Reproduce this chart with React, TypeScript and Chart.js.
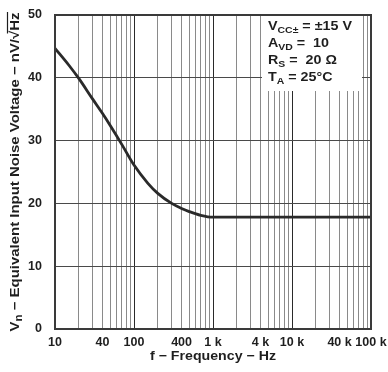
import React, { useEffect, useRef } from 'react';
import { Chart, registerables } from 'chart.js';

Chart.register(...registerables);

// ---- data ----
const FREQ_HZ = [10, 15, 20, 30, 40, 50, 70, 100, 150, 200, 300, 400, 500, 700, 1000, 2000, 10000, 100000];
const NOISE_NV = [44.7, 42.0, 39.9, 36.6, 34.3, 32.4, 29.4, 26.1, 23.2, 21.6, 20.0, 19.2, 18.7, 18.1, 17.8, 17.8, 17.8, 17.8];

const X_TICK_VALUES = [10, 40, 100, 400, 1000, 4000, 10000, 40000, 100000];
const X_TICK_LABELS = ['10', '40', '100', '400', '1 k', '4 k', '10 k', '40 k', '100 k'];
const Y_MIN = 0;
const Y_MAX = 50;
const Y_STEP = 10;

const X_TITLE = 'f − Frequency − Hz';
const Y_TITLE_MAIN = 'V';
const Y_TITLE_SUB = 'n';
const Y_TITLE_REST = ' − Equivalent Input Noise Voltage − nV/';
const Y_TITLE_ROOT = 'Hz';

const CONDITION_MAIN = ['V', 'A', 'R', 'T'];
const CONDITION_SUB = ['CC±', 'VD', 'S', 'A'];
const CONDITION_REST = [' = ±15 V', ' =  10', ' =  20 Ω', ' = 25°C'];

const FONT = "'Liberation Sans', Arial, Helvetica, sans-serif";
const TEXT_COLOR = '#1e1e1e';

// gridline frequencies: 1..9 × each decade
const GRID_FREQS: number[] = [];
for (let d = 10; d < 100000; d *= 10) {
  for (let m = 1; m < 10; m++) GRID_FREQS.push(m * d);
}
GRID_FREQS.push(100000);

type Run = { t: string; size: number; dy: number };

function runsWidth(ctx: CanvasRenderingContext2D, runs: Run[], sx: number) {
  let w = 0;
  for (const r of runs) {
    ctx.font = `bold ${r.size}px ${FONT}`;
    w += ctx.measureText(r.t).width;
  }
  return w * sx;
}

// draws text runs starting at (x, y), stretched horizontally by sx; returns run start positions
function drawRuns(ctx: CanvasRenderingContext2D, runs: Run[], x: number, y: number, sx: number) {
  ctx.save();
  ctx.translate(x, y);
  ctx.scale(sx, 1);
  let cx = 0;
  const pos: number[] = [];
  for (const r of runs) {
    ctx.font = `bold ${r.size}px ${FONT}`;
    pos.push(x + cx * sx);
    ctx.fillText(r.t, cx, r.dy);
    cx += ctx.measureText(r.t).width;
  }
  pos.push(x + cx * sx);
  ctx.restore();
  return pos;
}

const decorPlugin = {
  id: 'decor',
  beforeDatasetsDraw(chart: any) {
    const ctx: CanvasRenderingContext2D = chart.ctx;
    const area = chart.chartArea;
    ctx.save();
    // condition box (white background hides the grid)
    ctx.fillStyle = '#ffffff';
    ctx.fillRect(262, area.top + 1, 100, 75);
    ctx.fillStyle = TEXT_COLOR;
    ctx.textBaseline = 'alphabetic';
    ctx.textAlign = 'left';
    const baselines = [30, 47, 64, 81];
    for (let i = 0; i < CONDITION_MAIN.length; i++) {
      drawRuns(
        ctx,
        [
          { t: CONDITION_MAIN[i], size: 13, dy: 0 },
          { t: CONDITION_SUB[i], size: 9.5, dy: 3 },
          { t: CONDITION_REST[i], size: 13, dy: 0 },
        ],
        268,
        baselines[i],
        1.1
      );
    }
    ctx.restore();
  },
  afterDraw(chart: any) {
    const ctx: CanvasRenderingContext2D = chart.ctx;
    const area = chart.chartArea;
    ctx.save();
    // frame
    ctx.strokeStyle = '#3a3a3a';
    ctx.lineWidth = 2;
    ctx.strokeRect(area.left, area.top, area.right - area.left, area.bottom - area.top);

    ctx.fillStyle = TEXT_COLOR;
    ctx.textAlign = 'left';
    ctx.textBaseline = 'alphabetic';

    // x title
    const xr: Run[] = [{ t: X_TITLE, size: 13, dy: 0 }];
    const xw = runsWidth(ctx, xr, 1.09);
    drawRuns(ctx, xr, (area.left + area.right) / 2 - xw / 2, 360, 1.09);

    // y title (rotated)
    const yr: Run[] = [
      { t: Y_TITLE_MAIN, size: 13, dy: 0 },
      { t: Y_TITLE_SUB, size: 10, dy: 3 },
      { t: Y_TITLE_REST, size: 13, dy: 0 },
      { t: '√', size: 13, dy: 0 },
      { t: Y_TITLE_ROOT, size: 13, dy: 0 },
    ];
    const ys = 1.15;
    const yw = runsWidth(ctx, yr, ys);
    ctx.translate(19, (area.top + area.bottom) / 2);
    ctx.rotate(-Math.PI / 2);
    const pos = drawRuns(ctx, yr, -yw / 2, 0, ys);
    // overbar of the square root
    ctx.strokeStyle = TEXT_COLOR;
    ctx.lineWidth = 1.2;
    ctx.beginPath();
    ctx.moveTo(pos[3] + 5.5, -11.5);
    ctx.lineTo(pos[5] + 0.5, -11.5);
    ctx.stroke();
    ctx.restore();
  },
};

function isDecade(v: number) {
  const l = Math.log10(v);
  return Math.abs(l - Math.round(l)) < 1e-9;
}

function clearPadding(s: any) {
  s.paddingLeft = 0;
  s.paddingRight = 0;
  s.paddingTop = 0;
  s.paddingBottom = 0;
}

export default function App() {
  const canvasRef = useRef<HTMLCanvasElement | null>(null);

  useEffect(() => {
    document.body.style.margin = '0';
    document.body.style.overflow = 'hidden';
    const canvas = canvasRef.current;
    if (!canvas) return;
    const chart = new Chart(canvas, {
      type: 'line',
      data: {
        datasets: [
          {
            data: FREQ_HZ.map((f, i) => ({ x: f, y: NOISE_NV[i] })),
            borderColor: '#2a2a2a',
            borderWidth: 2.8,
            pointRadius: 0,
            cubicInterpolationMode: 'monotone',
            fill: false,
          },
        ],
      },
      options: {
        responsive: false,
        animation: false,
        layout: { padding: { top: 15, right: 17, left: 0, bottom: 0 } },
        plugins: {
          legend: { display: false },
          tooltip: { enabled: false },
        },
        scales: {
          x: {
            type: 'logarithmic',
            min: 10,
            max: 100000,
            afterFit: (s: any) => {
              s.height = 43;
              clearPadding(s);
            },
            afterBuildTicks: (s: any) => {
              s.ticks = GRID_FREQS.map((v) => ({ value: v }));
            },
            ticks: {
              autoSkip: false,
              maxRotation: 0,
              minRotation: 0,
              padding: 6,
              color: TEXT_COLOR,
              font: { family: FONT, size: 12.5, weight: 'bold' },
              callback: (value: any) => {
                const idx = X_TICK_VALUES.indexOf(Number(value));
                return idx >= 0 ? X_TICK_LABELS[idx] : '';
              },
            },
            grid: {
              drawTicks: false,
              lineWidth: 1,
              color: (c: any) => (c.tick && isDecade(c.tick.value) ? '#2a2a2a' : '#8a8a8a'),
            },
            border: { display: false },
          },
          y: {
            type: 'linear',
            min: Y_MIN,
            max: Y_MAX,
            afterFit: (s: any) => {
              s.width = 55;
              clearPadding(s);
            },
            ticks: {
              stepSize: Y_STEP,
              padding: 13,
              color: TEXT_COLOR,
              font: { family: FONT, size: 12.5, weight: 'bold' },
            },
            grid: {
              drawTicks: false,
              lineWidth: 1,
              color: '#4a4a4a',
            },
            border: { display: false },
          },
        },
      },
      plugins: [decorPlugin],
    } as any);
    return () => chart.destroy();
  }, []);

  return (
    <div style={{ width: 388, height: 372, background: '#fff' }}>
      <canvas ref={canvasRef} width={388} height={372} style={{ display: 'block' }} />
    </div>
  );
}
